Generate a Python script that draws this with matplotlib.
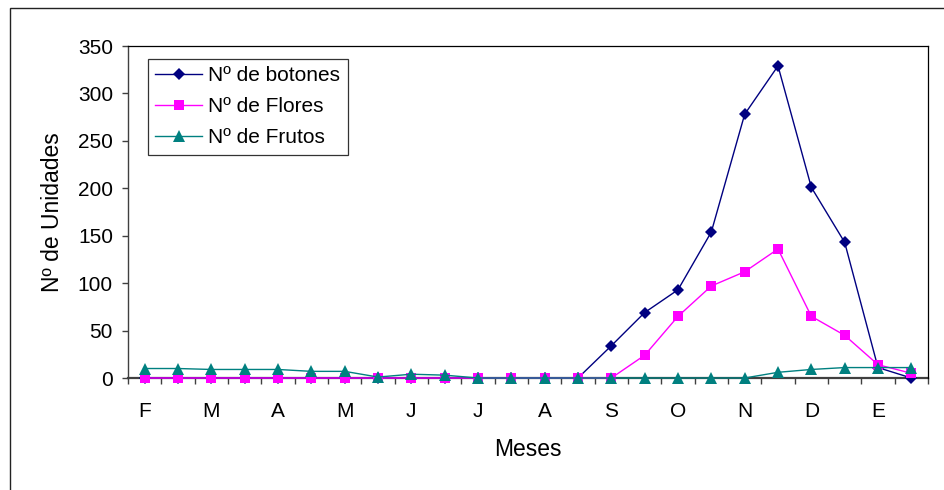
import matplotlib
matplotlib.use("Agg")
import matplotlib.pyplot as plt
from matplotlib.patches import Rectangle
from matplotlib.ticker import FixedLocator

plt.rcParams['font.family'] = ['Liberation Sans', 'DejaVu Sans']

month_labels = ["F", "M", "A", "M", "J", "J", "A", "S", "O", "N", "D", "E"]
botones = [0, 0, 0, 0, 0, 0, 0, 0, 0, 0, 0, 0, 0, 0, 34, 69, 93, 154, 278, 329, 201, 143, 11, 0]
flores = [0, 0, 0, 0, 0, 0, 0, 0, 0, 0, 0, 0, 0, 0, 0, 24, 65, 97, 112, 136, 65, 45, 14, 5]
frutos = [10, 10, 9, 9, 9, 7, 7, 1, 4, 3, 0, 0, 0, 0, 0, 0, 0, 0, 0, 6, 9, 11, 11, 11]
series_names = ["Nº de botones", "Nº de Flores", "Nº de Frutos"]

W, H = 944, 490
fig = plt.figure(figsize=(W / 100, H / 100), dpi=100)
ax = fig.add_axes([128 / W, (H - 378) / H, 800 / W, 332 / H])

x = list(range(len(botones)))
fs = 15
fs_lab = 16.5

ax.plot(x, botones, color="#000080", lw=1.0, marker="D", markersize=6.3,
        markeredgewidth=0, markerfacecolor="#000080", label=series_names[0], clip_on=False)
ax.plot(x, flores, color="#FF00FF", lw=1.0, marker="s", markersize=7.2,
        markeredgewidth=0, markerfacecolor="#FF00FF", label=series_names[1], clip_on=False)
ax.plot(x, frutos, color="#008080", lw=1.0, marker="^", markersize=8.0,
        markeredgewidth=0, markerfacecolor="#008080", label=series_names[2], clip_on=False)

ax.set_xlim(-0.5, len(botones) - 0.5)
ax.set_ylim(0, 350)

# x ticks: labels every two categories, tick marks at every category boundary
ax.xaxis.set_major_locator(FixedLocator(list(range(0, len(botones), 2))))
ax.set_xticklabels(month_labels)
ax.xaxis.set_minor_locator(FixedLocator([i - 0.5 for i in range(len(botones) + 1)]))
ax.tick_params(axis="x", which="major", length=0, pad=17, labelsize=fs)
ax.tick_params(axis="x", which="minor", length=6 * 0.72, width=1.0, color="#404040", direction="out")

ax.set_yticks(list(range(0, 351, 50)))
ax.tick_params(axis="y", which="major", length=6 * 0.72, width=1.0, color="#404040",
               pad=6.5, labelsize=fs)

for s in ["top", "right"]:
    ax.spines[s].set_color("black")
    ax.spines[s].set_linewidth(0.9)
ax.spines["left"].set_color("#404040")
ax.spines["left"].set_linewidth(1.0)
ax.spines["bottom"].set_color("#404040")
ax.spines["bottom"].set_linewidth(1.6)
ax.spines["bottom"].set_zorder(1)

ax.set_xlabel("Meses", fontsize=fs_lab, va="center")
ax.xaxis.set_label_coords(0.5, (378 - 449) / 332)
ax.set_ylabel("Nº de Unidades", fontsize=fs_lab, va="center")
ax.yaxis.set_label_coords((52 - 128) / 800, 0.5)

leg = ax.legend(loc="upper left", bbox_to_anchor=((148 - 128) / 800, (378 - 59) / 332),
                borderaxespad=0, fontsize=fs, frameon=True, fancybox=False,
                handlelength=2.25, handletextpad=0.3, labelspacing=0.58,
                borderpad=0.35, edgecolor="black")
leg.get_frame().set_linewidth(0.9)

# outer chart frame
fig.patches.append(Rectangle((10 / W, -0.5), 2.0, 0.5 + 1 - 7.5 / H, transform=fig.transFigure,
                             fill=False, edgecolor="#222222", linewidth=1.0))

fig.savefig("out.png", dpi=100)
